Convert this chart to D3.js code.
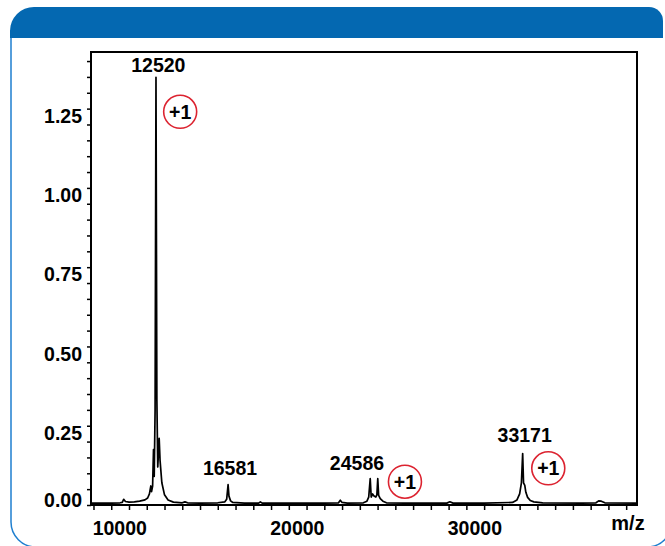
<!DOCTYPE html>
<html>
<head>
<meta charset="utf-8">
<script src="https://cdn.jsdelivr.net/npm/d3@7"></script>
<style>
  body { margin: 0; background: #fff; }
  svg text { font-family: "Liberation Sans", Arial, sans-serif; font-weight: bold; }
</style>
</head>
<body>
<div id="chart"></div>
<script>
// spectrum (m/z, relative intensity)
var spectrumMz = [
  8860, 9500, 10000, 10500, 10620, 10700, 10800, 11000, 11300, 11600, 11900,
  12050, 12150, 12230, 12270, 12330, 12380, 12420, 12470, 12520, 12570,
  12620, 12700, 12750, 12850, 13000, 13200, 13500, 14000, 14150, 14300,
  15000, 16000, 16400, 16500, 16581, 16630, 16720, 16850, 17500, 18300,
  18400, 18500, 20000, 22000, 22800, 22900, 23000, 23300, 24200, 24400,
  24500, 24586, 24640, 24720, 24800, 24900, 24960, 25010, 25060, 25150,
  25300, 25500, 26500, 28900, 29070, 29250, 31000, 32600, 32850, 33000,
  33100, 33171, 33220, 33290, 33350, 33450, 33600, 33800, 34300, 36500,
  37300, 37450, 37600, 37800, 39610
];
var spectrumInt = [
  0.006, 0.006, 0.006, 0.007, 0.008, 0.018, 0.011, 0.009, 0.010, 0.012, 0.016,
  0.022, 0.035, 0.060, 0.042, 0.060, 0.175, 0.090, 0.300, 1.349, 0.330,
  0.120, 0.210, 0.140, 0.070, 0.032, 0.016, 0.009, 0.007, 0.010, 0.007,
  0.006, 0.007, 0.010, 0.018, 0.064, 0.028, 0.013, 0.008, 0.006, 0.006,
  0.010, 0.006, 0.006, 0.006, 0.007, 0.015, 0.008, 0.006, 0.007, 0.012,
  0.025, 0.083, 0.025, 0.035, 0.028, 0.025, 0.032, 0.083, 0.030, 0.020,
  0.012, 0.007, 0.006, 0.006, 0.010, 0.006, 0.006, 0.008, 0.016, 0.035,
  0.070, 0.162, 0.070, 0.062, 0.040, 0.024, 0.014, 0.010, 0.007, 0.006,
  0.007, 0.013, 0.012, 0.007, 0.006
];

var peakLabels = ["12520", "16581", "24586", "33171"];
var peakLabelMz = [12651, 16688, 23840, 33284];
var peakLabelInt = [1.365, 0.095, 0.110, 0.200];

var chargeLabels = ["+1", "+1", "+1"];
var chargeMz = [13882, 26541, 34613];
var chargeInt = [1.240, 0.0735, 0.1157];

var xLabelValues = [10000, 20000, 30000];
var yLabelValues = [0, 0.25, 0.5, 0.75, 1.0, 1.25];

var WIDTH = 665;
var HEIGHT = 546;
var BLUE = "#0468b1";
var RED = "#dc2330";

var plotLeft = 91, plotRight = 637, plotTop = 52, plotBottom = 505;

var svg = d3.select("#chart")
  .append("svg")
  .attr("width", WIDTH)
  .attr("height", HEIGHT);

// panel frame
svg.append("path")
  .attr("d", "M11,30 V522 A25,25 0 0 0 36,547 H647 A25,25 0 0 0 672,522")
  .style("fill", "none")
  .style("stroke", "#1f7fcf")
  .style("stroke-width", 1.5);

svg.append("path")
  .attr("d", "M10,38 V31 A24,24 0 0 1 34,7 H649 A14,14 0 0 1 663,21 V38 Z")
  .style("fill", BLUE);

var x = d3.scaleLinear().domain([8860, 39610]).range([plotLeft, plotRight]);
var y = d3.scaleLinear().domain([0, (plotBottom - plotTop) / 317.1]).range([plotBottom, plotTop]);

// x axis: ticks every 1000, labels at 10000s
var xTicks = d3.range(9000, 39001, 1000);
var xAxis = svg.append("g")
  .attr("transform", "translate(0," + plotBottom + ")")
  .call(d3.axisBottom(x).tickValues(xTicks).tickSize(5).tickPadding(11)
    .tickFormat(function(d) { return xLabelValues.indexOf(d) >= 0 ? d : ""; }));
xAxis.select(".domain").remove();
xAxis.selectAll("line").style("stroke", "#000").style("stroke-width", 1.5);
xAxis.selectAll("text")
  .attr("dx", 8)
  .style("font-size", "19.5px")
  .style("fill", "#000");

// y axis: minor ticks every 0.05
var yTicks = d3.range(0, 29).map(function(i) { return i * 0.05; });
var yAxis = svg.append("g")
  .attr("transform", "translate(" + plotLeft + ",0)")
  .call(d3.axisLeft(y).tickValues(yTicks).tickSize(4).tickPadding(5)
    .tickFormat(function(d) {
      var hit = yLabelValues.some(function(v) { return Math.abs(v - d) < 1e-6; });
      return hit ? d.toFixed(2) : "";
    }));
yAxis.select(".domain").remove();
yAxis.selectAll("line").style("stroke", "#000").style("stroke-width", 1.5);
yAxis.selectAll("text")
  .attr("dy", function(d) { return d === 0 ? "0.06em" : "0.7em"; })
  .style("font-size", "19.5px")
  .style("fill", "#000");

svg.append("text")
  .attr("x", 628)
  .attr("y", 530)
  .attr("text-anchor", "middle")
  .style("font-size", "20px")
  .text("m/z");

// spectrum
var line = d3.line()
  .x(function(d, i) { return x(spectrumMz[i]); })
  .y(function(d) { return y(d); });

svg.append("path")
  .attr("d", line(spectrumInt))
  .style("fill", "none")
  .style("stroke", "#000")
  .style("stroke-width", 1.7)
  .style("stroke-linejoin", "round");

// plot frame
svg.append("rect")
  .attr("x", plotLeft)
  .attr("y", plotTop)
  .attr("width", plotRight - plotLeft)
  .attr("height", plotBottom - plotTop)
  .style("fill", "none")
  .style("stroke", "#000")
  .style("stroke-width", 2);

// peak labels
svg.selectAll(".peak")
  .data(peakLabels)
  .enter().append("text")
  .attr("class", "peak")
  .attr("x", function(d, i) { return x(peakLabelMz[i]); })
  .attr("y", function(d, i) { return y(peakLabelInt[i]); })
  .attr("text-anchor", "middle")
  .style("font-size", "19.5px")
  .text(function(d) { return d; });

// charge state circles
var charge = svg.selectAll(".charge")
  .data(chargeLabels)
  .enter().append("g")
  .attr("class", "charge")
  .attr("transform", function(d, i) {
    return "translate(" + x(chargeMz[i]) + "," + y(chargeInt[i]) + ")";
  });

charge.append("circle")
  .attr("r", 16.5)
  .style("fill", "none")
  .style("stroke", RED)
  .style("stroke-width", 1.6);

charge.append("text")
  .attr("text-anchor", "middle")
  .attr("dy", "0.36em")
  .style("font-size", "19.5px")
  .text(function(d) { return d; });
</script>
</body>
</html>
